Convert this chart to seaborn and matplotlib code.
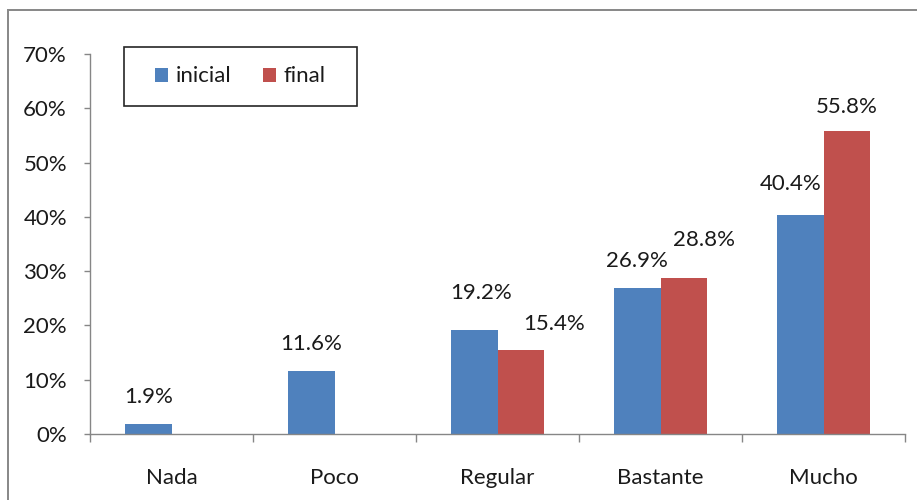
import numpy as np
import pandas as pd
import matplotlib
matplotlib.use("Agg")
import matplotlib.pyplot as plt
from matplotlib.patches import Patch, Rectangle
import seaborn as sns

# Survey answers, percentage of respondents
categories = ["Nada", "Poco", "Regular", "Bastante", "Mucho"]
inicial = [1.9, 11.6, 19.2, 26.9, 40.4]
final = [np.nan, np.nan, 15.4, 28.8, 55.8]
series_names = ["inicial", "final"]
y_ticks = [0, 10, 20, 30, 40, 50, 60, 70]

colors = {"inicial": "#4F81BD", "final": "#C0504D"}

# Label nudges (pixels from the top-centre of each bar to the label centre)
label_nudge = {
    ("Nada", "inicial"): (0, 27),
    ("Poco", "inicial"): (0, 27),
    ("Regular", "inicial"): (7, 37),
    ("Regular", "final"): (34, 26),
    ("Bastante", "inicial"): (-1, 27),
    ("Bastante", "final"): (20, 38),
    ("Mucho", "inicial"): (-10, 31),
    ("Mucho", "final"): (0, 24),
}

df = pd.DataFrame({
    "categoria": categories * 2,
    "serie": ["inicial"] * len(categories) + ["final"] * len(categories),
    "valor": inicial + final,
}).dropna()

sns.set_theme(style="white")
plt.rcParams["font.family"] = ["Lato", "DejaVu Sans"]

W, H, DPI = 917, 500, 100
fig = plt.figure(figsize=(W / DPI, H / DPI), dpi=DPI)
px = 72 / DPI  # points per pixel

ax = fig.add_axes([90 / W, 1 - 434 / H, (905 - 90) / W, (434 - 54) / H])

sns.barplot(
    data=df, x="categoria", y="valor", hue="serie",
    order=categories, hue_order=series_names, palette=colors,
    width=0.565, linewidth=0, saturation=1, legend=False, ax=ax,
)

ax.set_xlim(-0.5, len(categories) - 0.5)
ax.set_ylim(0, 70)
ax.set_xlabel("")
ax.set_ylabel("")

axis_grey = "#868686"
text_col = "#1a1a1a"
fs = 16

ax.set_yticks(y_ticks)
ax.set_yticklabels([f"{t}%" for t in y_ticks])
ax.tick_params(axis="y", left=True, length=6 * px, width=1, color=axis_grey,
               pad=17 * px, labelsize=fs, labelcolor=text_col)
ax.set_xticks(range(len(categories)))
ax.set_xticklabels(categories)
ax.set_xticks(np.arange(-0.5, len(categories), 1.0), minor=True)
ax.tick_params(axis="x", which="major", length=0, pad=34 * px,
               labelsize=fs, labelcolor=text_col)
ax.tick_params(axis="x", which="minor", bottom=True, length=8 * px,
               width=1, color=axis_grey)

for side in ("top", "right"):
    ax.spines[side].set_visible(False)
for side in ("left", "bottom"):
    ax.spines[side].set_color(axis_grey)
    ax.spines[side].set_linewidth(1)

# Value labels above the bars
for serie, container in zip(series_names, ax.containers):
    for bar in container:
        h = bar.get_height()
        if not np.isfinite(h):
            continue
        xc = bar.get_x() + bar.get_width() / 2
        cat = categories[int(round(xc))]
        dx, dy = label_nudge.get((cat, serie), (0, 27))
        ax.annotate(f"{h:.1f}%", (xc, h), xytext=(dx * px, dy * px),
                    textcoords="offset points", ha="center", va="center",
                    fontsize=fs, color=text_col)

# Legend with a square-cornered box
handles = [Patch(facecolor=colors[s], edgecolor="none", label=s) for s in series_names]
fig.legend(handles=handles, loc="center", ncol=2, frameon=False,
           bbox_to_anchor=((124 + 357) / 2 / W, 1 - (47 + 106) / 2 / H),
           fontsize=fs, handlelength=0.6, handleheight=0.6,
           handletextpad=0.35, columnspacing=1.4, labelcolor=text_col)
fig.patches.append(Rectangle((124 / W, 1 - 106 / H), (357 - 124) / W, (106 - 47) / H,
                             transform=fig.transFigure, fill=False,
                             edgecolor="#262626", linewidth=1.2))

# Outer chart frame
fig.patches.append(Rectangle((8 / W, -0.05), 1.0, 1 - 10 / H + 0.05,
                             transform=fig.transFigure, fill=False,
                             edgecolor="#8a8a8a", linewidth=2 * px, clip_on=False))

fig.savefig("out.png", dpi=DPI)
